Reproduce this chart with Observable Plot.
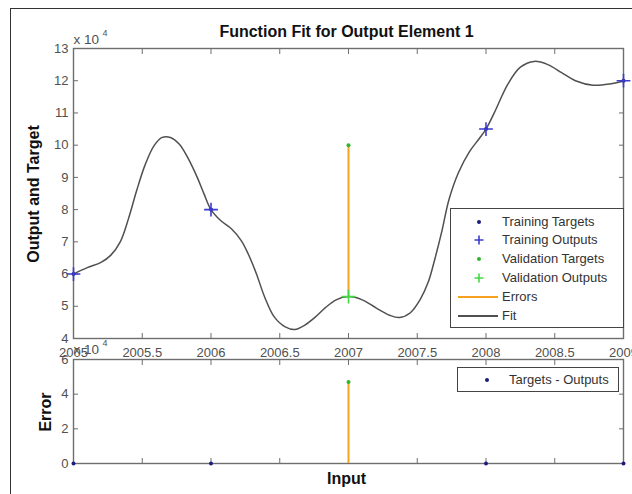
<!DOCTYPE html>
<html>
<head>
<meta charset="utf-8">
<script src="https://cdn.jsdelivr.net/npm/d3@7"></script>
<script src="https://cdn.jsdelivr.net/npm/@observablehq/plot@0.6"></script>
<style>
  body { margin: 0; background: #fff; }
  #wrap { position: relative; width: 632px; height: 494px; background: #fff; overflow: hidden;
          font-family: "Liberation Sans", Arial, sans-serif; }
  .abs { position: absolute; white-space: nowrap; }
  .plotbox { position: absolute; left: 0; }
  .lbl { font-weight: bold; font-size: 16px; line-height: 16px; color: #111; }
  .legend { position: absolute; background: #fff; border: 1px solid #444; box-sizing: border-box;
            font-size: 13px; color: #333; }
  .row { position: absolute; left: 0; height: 16px; line-height: 16px; width: 100%; }
  .row svg { position: absolute; left: 6px; top: 0; }
  .row span { position: absolute; left: 51px; top: 0; }
</style>
</head>
<body>
<div id="wrap">
  <div class="abs" style="left:10px;top:8px;width:700px;height:600px;border-left:1.5px solid #333;border-top:1.5px solid #333;"></div>
  <div id="top" class="plotbox" style="top:0"></div>
  <div id="bot" class="plotbox" style="top:340px"></div>
  <div class="abs lbl" style="left:346.5px;top:23.5px;transform:translateX(-50%);">Function Fit for Output Element 1</div>
  <div class="abs lbl" style="left:34px;top:194px;transform:translate(-50%,-50%) rotate(-90deg);">Output and Target</div>
  <div class="abs lbl" style="left:46px;top:412px;transform:translate(-50%,-50%) rotate(-90deg);">Error</div>
  <div class="abs lbl" style="left:346.5px;top:471px;transform:translateX(-50%);">Input</div>
  <div id="leg1" class="legend" style="left:450px;top:208px;width:174px;height:120px;"></div>
  <div id="leg2" class="legend" style="left:457px;top:367px;width:162px;height:25px;"></div>
</div>
<script>
// ---------- data (output values in units of 10^4) ----------
const years = [2005, 2006, 2007, 2008, 2009];
const targets = [6.0, 8.0, 10.0, 10.5, 12.0];
const outputs = [6.0, 8.0, 5.3, 10.5, 12.0];
const split = ["train", "train", "val", "train", "train"];

const fitX = [2005.00, 2005.10, 2005.20, 2005.27, 2005.34, 2005.40, 2005.46, 2005.52, 2005.585, 2005.645,
              2005.705, 2005.77, 2005.83, 2005.90, 2005.95, 2006.00, 2006.07, 2006.15, 2006.22, 2006.27,
              2006.33, 2006.39, 2006.46, 2006.54, 2006.61, 2006.68, 2006.76, 2006.83, 2006.91, 2007.00,
              2007.10, 2007.20, 2007.30, 2007.37, 2007.45, 2007.52, 2007.58, 2007.63, 2007.68, 2007.73,
              2007.80, 2007.88, 2007.95, 2008.00, 2008.06, 2008.16, 2008.25, 2008.35, 2008.45, 2008.55,
              2008.65, 2008.78, 2008.90, 2009.00];
const fitY = [6.0, 6.2, 6.36, 6.58, 7.0, 7.72, 8.6, 9.38, 9.98, 10.24,
              10.24, 10.03, 9.62, 9.0, 8.48, 8.0, 7.66, 7.40, 7.04, 6.63,
              6.01, 5.29, 4.67, 4.36, 4.28, 4.41, 4.67, 4.95, 5.2, 5.3,
              5.2, 4.95, 4.72, 4.65, 4.8, 5.2, 5.75, 6.5, 7.35, 8.3,
              9.15, 9.8, 10.2, 10.5, 11.0, 11.9, 12.42, 12.6, 12.5, 12.25,
              12.0, 11.86, 11.9, 12.0];

const xTicks = [2005, 2005.5, 2006, 2006.5, 2007, 2007.5, 2008, 2008.5, 2009];
const xTickLabels = ["2005", "2005.5", "2006", "2006.5", "2007", "2007.5", "2008", "2008.5", "2009"];
const yTicksTop = [4, 5, 6, 7, 8, 9, 10, 11, 12, 13];
const yTicksBot = [0, 2, 4, 6];

const colors = {
  trainTarget: "#1c1c80", trainOutput: "#3b3bd0",
  valTarget: "#2fb52f", valOutput: "#45d845",
  errors: "#f7a21e", fit: "#505050", axis: "#6e6e6e", text: "#505050"
};

const idx = years.map((_, i) => i);
const trainIdx = idx.filter(i => split[i] === "train");
const valIdx = idx.filter(i => split[i] === "val");
const errors = idx.map(i => targets[i] - outputs[i]);
const fit = fitX.map((x, i) => ({x, y: fitY[i]}));

const font = '"Liberation Sans", Arial, sans-serif';
const baseStyle = {background: "transparent", fontFamily: font, fontSize: "13px", color: colors.text, overflow: "visible"};
const fmtX = d => xTickLabels[xTicks.indexOf(d)];

function boxAxes(yTicks) {
  return [
    Plot.axisX({anchor: "bottom", ticks: xTicks, tickSize: -5, tickFormat: () => "", stroke: colors.axis}),
    Plot.axisX({anchor: "top", ticks: xTicks, tickSize: -5, tickFormat: () => "", stroke: colors.axis}),
    Plot.axisY({anchor: "left", ticks: yTicks, tickSize: -5, tickFormat: () => "", stroke: colors.axis}),
    Plot.axisY({anchor: "right", ticks: yTicks, tickSize: -5, tickFormat: () => "", stroke: colors.axis}),
    Plot.axisY({anchor: "left", ticks: yTicks, tickSize: 0, tickPadding: 5, tickFormat: d => String(d), fill: colors.text}),
    Plot.frame({stroke: colors.axis, strokeWidth: 1.4})
  ];
}

const topPlot = Plot.plot({
  width: 632, height: 360,
  marginLeft: 73, marginRight: 9, marginTop: 48, marginBottom: 22,
  style: baseStyle,
  x: {domain: [2005, 2009], label: null},
  y: {domain: [4, 13], label: null},
  marks: [
    ...boxAxes(yTicksTop),
    Plot.axisX({anchor: "bottom", ticks: xTicks, tickSize: 0, tickPadding: 9, tickFormat: fmtX, fill: colors.text}),
    Plot.text(["x 10"], {frameAnchor: "top-left", dy: -5, lineAnchor: "bottom", textAnchor: "start", fill: colors.text, fontSize: 13.5}),
    Plot.text(["4"], {frameAnchor: "top-left", dx: 29, dy: -13, lineAnchor: "bottom", textAnchor: "start", fill: colors.text, fontSize: 9}),
    Plot.line(fit, {x: "x", y: "y", stroke: colors.fit, strokeWidth: 1.5, curve: "catmull-rom"}),
    Plot.ruleX(valIdx, {x: i => years[i], y1: i => outputs[i], y2: i => targets[i], stroke: colors.errors, strokeWidth: 2}),
    Plot.dot(trainIdx, {x: i => years[i], y: i => targets[i], r: 2, fill: colors.trainTarget}),
    Plot.dot(trainIdx, {x: i => years[i], y: i => outputs[i], symbol: "plus", r: 4.5, stroke: colors.trainOutput, strokeWidth: 1.6}),
    Plot.dot(valIdx, {x: i => years[i], y: i => targets[i], r: 2, fill: colors.valTarget}),
    Plot.dot(valIdx, {x: i => years[i], y: i => outputs[i], symbol: "plus", r: 4.5, stroke: colors.valOutput, strokeWidth: 1.6})
  ]
});
document.getElementById("top").appendChild(topPlot);

const botPlot = Plot.plot({
  width: 632, height: 154,
  marginLeft: 73, marginRight: 9, marginTop: 19, marginBottom: 31,
  style: baseStyle,
  x: {domain: [2005, 2009], label: null},
  y: {domain: [0, 6], label: null},
  marks: [
    ...boxAxes(yTicksBot),
    Plot.text(["x 10"], {frameAnchor: "top-left", dy: -6, lineAnchor: "bottom", textAnchor: "start", fill: colors.text, fontSize: 13.5}),
    Plot.text(["4"], {frameAnchor: "top-left", dx: 29, dy: -14, lineAnchor: "bottom", textAnchor: "start", fill: colors.text, fontSize: 9}),
    Plot.ruleX(valIdx, {x: i => years[i], y1: 0, y2: i => errors[i], stroke: colors.errors, strokeWidth: 2}),
    Plot.dot(trainIdx, {x: i => years[i], y: i => errors[i], r: 2, fill: colors.trainTarget}),
    Plot.dot(valIdx, {x: i => years[i], y: i => errors[i], r: 2, fill: colors.valTarget})
  ]
});
document.getElementById("bot").appendChild(botPlot);

// ---------- legends ----------
const legendItems = [
  {label: "Training Targets", kind: "dot", color: colors.trainTarget},
  {label: "Training Outputs", kind: "plus", color: colors.trainOutput},
  {label: "Validation Targets", kind: "dot", color: colors.valTarget},
  {label: "Validation Outputs", kind: "plus", color: colors.valOutput},
  {label: "Errors", kind: "line", color: colors.errors},
  {label: "Fit", kind: "line", color: colors.fit}
];
function swatch(kind, color) {
  if (kind === "dot") return `<svg width="42" height="16"><circle cx="22" cy="8" r="2" fill="${color}"/></svg>`;
  if (kind === "plus") return `<svg width="42" height="16"><path d="M17.5,8H26.5M22,3.5V12.5" stroke="${color}" stroke-width="1.6"/></svg>`;
  return `<svg width="42" height="16"><line x1="1" x2="41" y1="8" y2="8" stroke="${color}" stroke-width="2"/></svg>`;
}
const leg1 = document.getElementById("leg1");
legendItems.forEach((it, i) => {
  const r = document.createElement("div");
  r.className = "row";
  r.style.top = (4.5 + i * 18.8) + "px";
  r.innerHTML = swatch(it.kind, it.color) + `<span>${it.label}</span>`;
  leg1.appendChild(r);
});
const leg2 = document.getElementById("leg2");
const r2 = document.createElement("div");
r2.className = "row";
r2.style.top = "3.5px";
r2.innerHTML = `<svg width="42" height="16" style="left:0"><circle cx="29" cy="8" r="2" fill="${colors.trainTarget}"/></svg><span style="left:51px">Targets - Outputs</span>`;
leg2.appendChild(r2);
</script>
</body>
</html>
